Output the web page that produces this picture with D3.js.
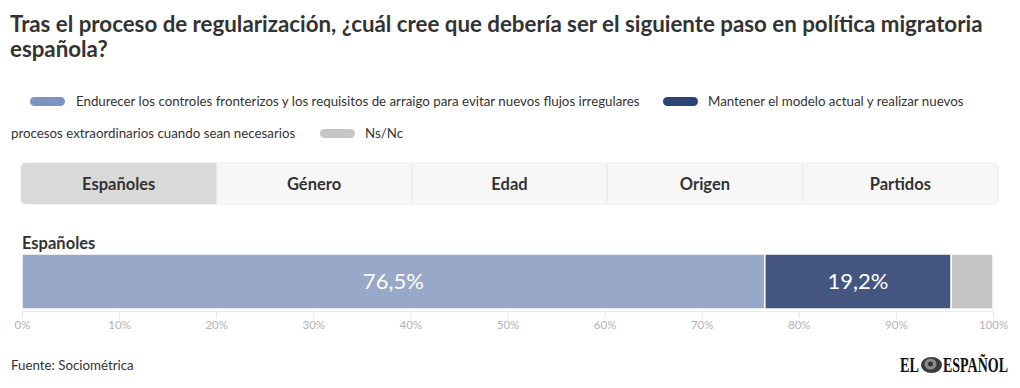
<!DOCTYPE html>
<html><head><meta charset="utf-8">
<script src="https://cdn.jsdelivr.net/npm/d3@7"></script>
<style>
html,body{margin:0;padding:0;background:#fff;}
svg{display:block;font-family:Lato,"Noto Sans",sans-serif;}
</style></head>
<body>
<svg id="c" width="1020" height="388"></svg>
<script>
const title = ["Tras el proceso de regularización, ¿cuál cree que debería ser el siguiente paso en política migratoria", "española?"];
const seriesNames = ["Endurecer los controles fronterizos y los requisitos de arraigo para evitar nuevos flujos irregulares", "Mantener el modelo actual y realizar nuevos procesos extraordinarios cuando sean necesarios", "Ns/Nc"];
const legendColors = ["#7f93c1", "#2e4274", "#c6c6c6"];
const barColors = ["#97a8c8", "#44567f", "#c4c4c4"];
const tabs = ["Españoles", "Género", "Edad", "Origen", "Partidos"];
const categories = ["Españoles"];
const values = [[76.5, 19.2, 4.3]];
const ticks = [0,10,20,30,40,50,60,70,80,90,100];
const source = "Fuente: Sociométrica";

const svg = d3.select("#c");
const font = 'Lato, "Noto Sans", sans-serif';

// Title
svg.append("g").selectAll("text").data(title).join("text")
  .attr("x", 10).attr("y", (d,i)=>32+i*25)
  .attr("font-family", font).attr("font-weight", 700).attr("font-size", 22.3)
  .attr("fill", "#333").text(d=>d);

// Legend
const leg = svg.append("g").attr("font-family", font).attr("font-size", 13.3).attr("fill", "#333");
function pill(x, y, c){ leg.append("rect").attr("x", x).attr("y", y).attr("width", 35).attr("height", 9).attr("rx", 4.5).attr("fill", c); }
pill(30, 97, legendColors[0]);
leg.append("text").attr("x", 76).attr("y", 106).attr("fill","#333").text(seriesNames[0]);
pill(663, 97, legendColors[1]);
leg.append("text").attr("x", 708).attr("y", 106).attr("fill","#333").text("Mantener el modelo actual y realizar nuevos");
leg.append("text").attr("x", 11).attr("y", 138).attr("fill","#333").text("procesos extraordinarios cuando sean necesarios");
pill(320, 129, legendColors[2]);
leg.append("text").attr("x", 365).attr("y", 138).attr("fill","#333").text(seriesNames[2]);

// Tabs
const tabX = d3.scaleBand().domain(tabs).range([21, 998]);
const tg = svg.append("g");
tg.append("rect").attr("x", 21).attr("y", 163).attr("width", 977).attr("height", 41).attr("rx", 5)
  .attr("fill", "#f7f7f7").attr("stroke", "#ececec");
tg.append("path").attr("d", (()=>{const x0=21,x1=tabX.bandwidth()+21,y0=163,y1=204,r=5;
  return `M${x0+r},${y0}H${x1}V${y1}H${x0+r}Q${x0},${y1} ${x0},${y1-r}V${y0+r}Q${x0},${y0} ${x0+r},${y0}Z`;})())
  .attr("fill", "#d9d9d9");
tg.selectAll("line").data(tabs.slice(1)).join("line")
  .attr("x1", d=>tabX(d)).attr("x2", d=>tabX(d)).attr("y1", 164).attr("y2", 203)
  .attr("stroke", "#e8e8e8");
tg.selectAll("text").data(tabs).join("text")
  .attr("x", d=>tabX(d)+tabX.bandwidth()/2).attr("y", 190)
  .attr("text-anchor", "middle").attr("font-family", font).attr("font-weight", 700)
  .attr("font-size", 16.5).attr("fill", "#333").text(d=>d);

// Chart
const x = d3.scaleLinear().domain([0,100]).range([22, 993]);
const y = d3.scaleBand().domain(categories).range([254, 309]);

const ax = svg.append("g").attr("transform", "translate(0,311)")
  .call(d3.axisBottom(x).tickValues(ticks).tickFormat(d=>d+"%").tickSize(7).tickPadding(3));
ax.select(".domain").attr("stroke", "#e6ecf4");
ax.selectAll(".tick line").attr("stroke", "#e6e6e6");
ax.selectAll(".tick text").attr("fill", "#b3b3b3").attr("font-family", font).attr("font-size", 11.5);

svg.append("g").selectAll("text").data(categories).join("text")
  .attr("x", 22).attr("y", d=>y(d)-5).attr("font-family", font).attr("font-weight", 700)
  .attr("font-size", 16.5).attr("fill", "#333").text(d=>d);

categories.forEach((cat, ci) => {
  const vals = values[ci];
  let acc = 0;
  const segs = vals.map((v, i) => { const s = {v, i, x0: acc, x1: acc + v}; acc += v; return s; });
  const g = svg.append("g");
  g.selectAll("rect").data(segs).join("rect")
    .attr("x", d=>x(d.x0)).attr("width", d=>x(d.x1)-x(d.x0))
    .attr("y", y(cat)).attr("height", y.bandwidth())
    .attr("fill", d=>barColors[d.i]).attr("stroke", "#fff").attr("stroke-width", 1.5);
  g.selectAll("text").data(segs.filter(d=>d.v>10)).join("text")
    .attr("x", d=>(x(d.x0)+x(d.x1))/2).attr("y", y(cat)+y.bandwidth()/2+7.5)
    .attr("text-anchor", "middle").attr("font-family", font).attr("font-size", 22)
    .attr("fill", "#fff").text(d=>d3.format(".1f")(d.v).replace(".", ",")+"%");
});

// Source
svg.append("text").attr("x", 11).attr("y", 370).attr("font-family", font).attr("font-size", 13.3)
  .attr("fill", "#333").text(source);

// Logo
const lg = svg.append("g").attr("font-family", '"Liberation Serif", "DejaVu Serif", serif')
  .attr("font-weight", 700).attr("fill", "#111");
const elT = lg.append("text").attr("font-size", 22).text("EL");
const elW = elT.node().getComputedTextLength();
elT.attr("transform", `translate(900,372) scale(${19/elW},1)`);
lg.append("ellipse").attr("cx", 931.5).attr("cy", 365).attr("rx", 10.5).attr("ry", 8).attr("fill", "#3a3a3a");
lg.append("ellipse").attr("cx", 930.5).attr("cy", 364).attr("rx", 6).attr("ry", 5.5).attr("fill", "#8a8a8a");
lg.append("circle").attr("cx", 930.5).attr("cy", 364).attr("r", 2.5).attr("fill", "#333");
const esT = lg.append("text").attr("font-size", 22).text("ESPAÑOL");
const esW = esT.node().getComputedTextLength();
esT.attr("transform", `translate(943,372) scale(${65/esW},1)`);
</script>
</body></html>
